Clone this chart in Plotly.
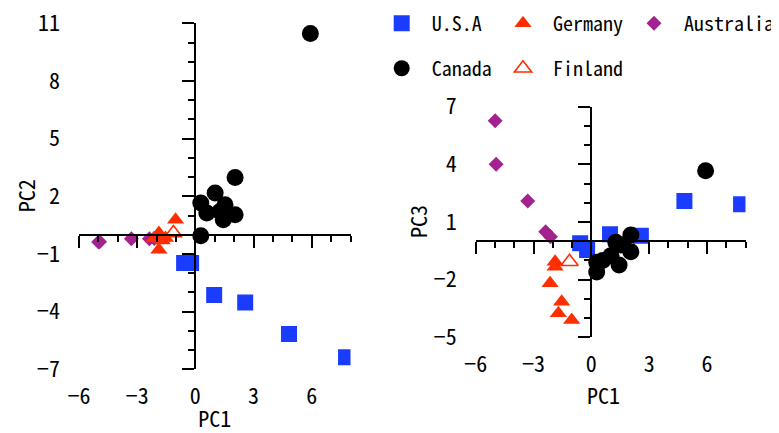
import plotly.graph_objects as go

# ---------------- data ----------------
usa_pc1 = [-0.58, -0.22, 0.97, 2.57, 4.83, 7.77]
usa_pc2 = [-1.47, -1.47, -3.14, -3.52, -5.17, -6.37]
usa_pc3 = [-0.11, -0.46, 0.36, 0.29, 2.09, 1.92]

canada_pc1 = [5.93, 2.05, 2.05, 1.02, 0.28, 0.59, 1.53, 1.44, 1.27, 0.28]
canada_pc2 = [10.47, 2.98, 1.04, 2.17, 1.65, 1.13, 1.56, 0.78, 1.21, -0.05]
canada_pc3 = [3.67, 0.32, -0.55, -0.75, -1.1, -1.0, -0.2, -1.24, -0.05, -1.6]

germany_pc1 = [-1.02, -1.88, -1.88, -2.14, -1.54, -1.71]
germany_pc2 = [0.78, 0.09, -0.78, -0.2, -0.17, -0.3]
germany_pc3 = [-4.1, -1.07, -1.33, -2.19, -3.15, -3.75]

finland_pc1 = [-1.13]
finland_pc2 = [0.09]
finland_pc3 = [-1.07]

australia_pc1 = [-4.99, -4.94, -3.3, -2.37, -2.12]
australia_pc2 = [-0.38, -0.36, -0.21, -0.21, -0.2]
australia_pc3 = [6.27, 4.0, 2.09, 0.49, 0.23]

x_range = [-6, 8]
left_y_range = [-7, 11]
right_y_range = [-5, 7]

# ---------------- style ----------------
# the page body adds an 8px offset, so the figure is 8px smaller
W, H = 771, 425
OFF = 8
FONT = "Noto Sans Mono CJK JP, Noto Sans CJK JP, monospace"
BLUE = "#1a3cff"
RED = "#ff2e00"
PURPLE = "#a3228f"
BLACK = "#000000"


def fx(px):
    return (px - OFF) / W


def fy(px):
    return 1 - (px - OFF) / H


left_xdom = [fx(79), fx(350.5)]
left_ydom = [fy(369.3), fy(23.3)]
right_xdom = [fx(475.7), fx(745.5)]
right_ydom = [fy(337.3), fy(106.7)]


def zero_pos(dom, rng):
    return dom[0] + (0 - rng[0]) / (rng[1] - rng[0]) * (dom[1] - dom[0])


fig = go.Figure()

series = [
    ("U.S.A", usa_pc1, usa_pc2, usa_pc3, dict(symbol="square", size=16, color=BLUE), "legend", "g1"),
    ("Australia", australia_pc1, australia_pc2, australia_pc3, dict(symbol="diamond", size=11.5, color=PURPLE), "legend3", "g5"),
    ("Germany", germany_pc1, germany_pc2, germany_pc3, dict(symbol="triangle-up", size=15, color=RED), "legend2", "g3"),
    ("Canada", canada_pc1, canada_pc2, canada_pc3, dict(symbol="circle", size=17, color=BLACK), "legend", "g2"),
    ("Finland", finland_pc1, finland_pc2, finland_pc3,
     dict(symbol="triangle-up-open", size=15, color=RED, line=dict(width=1.6, color=RED)), "legend2", "g4"),
]

for name, pc1, pc2, pc3, mk, lg, grp in series:
    m = dict(mk)
    if "line" not in m:
        m["line"] = dict(width=0)
    fig.add_trace(go.Scatter(x=pc1, y=pc2, mode="markers", name=" " + name, marker=m,
                             xaxis="x", yaxis="y", legend=lg, legendgroup=grp, showlegend=True))
    fig.add_trace(go.Scatter(x=pc1, y=pc3, mode="markers", name=" " + name, marker=m,
                             xaxis="x2", yaxis="y2", legend=lg, legendgroup=grp, showlegend=False))

# invisible copies so that the crossing axis lines (overlay axes) get drawn
for xa, ya, yy in [("x3", "y", usa_pc2), ("x", "y3", usa_pc2), ("x4", "y2", usa_pc3), ("x2", "y4", usa_pc3)]:
    fig.add_trace(go.Scatter(x=usa_pc1, y=yy, mode="markers", marker=dict(opacity=0, size=1),
                             xaxis=xa, yaxis=ya, hoverinfo="skip", showlegend=False))

tickfont = dict(family=FONT, size=22, color="black")
titlefont = dict(family=FONT, size=22, color="black")


def label_axis(dom, rng, tick0, anchor, labstand, title=None):
    ax = dict(domain=dom, range=rng, tick0=tick0, dtick=3, showline=False, ticks="",
              showgrid=False, zeroline=False, tickfont=tickfont, anchor=anchor,
              ticklabelstandoff=labstand, ticklabeloverflow="allow", fixedrange=True)
    if title:
        ax["title"] = dict(text=title, font=titlefont, standoff=8)
    return ax


def line_axis(dom, rng, tick0, over, pos, side):
    return dict(domain=dom, range=rng, tick0=tick0, dtick=3, overlaying=over, anchor="free",
                position=pos, side=side, showline=True, linewidth=2, linecolor="black",
                ticks="outside", ticklen=12, tickwidth=2, tickcolor="black",
                minor=dict(dtick=1, tick0=0, ticks="outside", ticklen=6, tickwidth=1.5, tickcolor="black"),
                showticklabels=False, showgrid=False, zeroline=False, fixedrange=True)


legfont = dict(family=FONT, size=20, color="black")

# remaining axis titles as text annotations
titles = [
    ("PC2", fx(25), (left_ydom[0] + left_ydom[1]) / 2, -90),
    ("PC1", fx(603), fy(393.5), 0),
    ("PC3", fx(417), (right_ydom[0] + right_ydom[1]) / 2, -90),
]
annotations = [
    dict(text=t, x=x, y=y, xref="paper", yref="paper", xanchor="center", yanchor="middle",
         showarrow=False, textangle=a, font=titlefont)
    for t, x, y, a in titles
]

fig.update_layout(
    width=W, height=H,
    margin=dict(l=0, r=0, t=0, b=0, autoexpand=False),
    paper_bgcolor="white", plot_bgcolor="rgba(0,0,0,0)",
    font=dict(family=FONT, color="black"),
    xaxis=label_axis(left_xdom, x_range, 0, "y", 12, "PC1"),
    yaxis=label_axis(left_ydom, left_y_range, -1, "x", 18),
    xaxis2=label_axis(right_xdom, x_range, 0, "y2", 12),
    yaxis2=label_axis(right_ydom, right_y_range, 1, "x2", 18),
    xaxis3=line_axis(left_xdom, x_range, 0, "x", zero_pos(left_ydom, left_y_range), "bottom"),
    yaxis3=line_axis(left_ydom, left_y_range, -1, "y", zero_pos(left_xdom, x_range), "left"),
    xaxis4=line_axis(right_xdom, x_range, 0, "x2", zero_pos(right_ydom, right_y_range), "bottom"),
    yaxis4=line_axis(right_ydom, right_y_range, 1, "y2", zero_pos(right_xdom, x_range), "left"),
    legend=dict(x=fx(381.7), y=1.01, xanchor="left", yanchor="top", orientation="v",
                font=legfont, tracegroupgap=16, bgcolor="rgba(0,0,0,0)", borderwidth=0),
    legend2=dict(x=fx(503), y=1.01, xanchor="left", yanchor="top", orientation="v",
                 font=legfont, tracegroupgap=16, bgcolor="rgba(0,0,0,0)", borderwidth=0),
    legend3=dict(x=fx(634), y=1.01, xanchor="left", yanchor="top", orientation="v",
                 font=legfont, tracegroupgap=16, bgcolor="rgba(0,0,0,0)", borderwidth=0),
    annotations=annotations,
)

fig.write_html("out.html")
